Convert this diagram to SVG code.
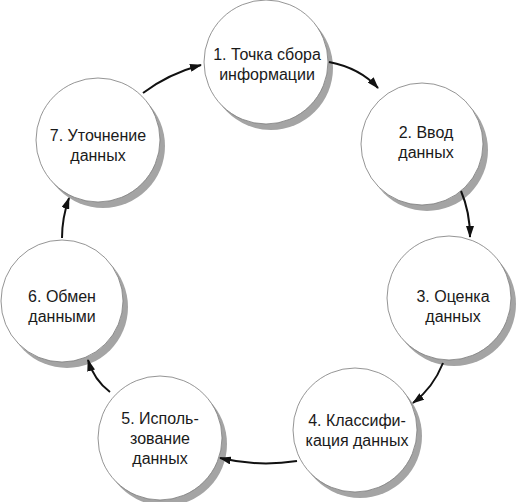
<svg xmlns="http://www.w3.org/2000/svg" width="524" height="502" viewBox="0 0 524 502">
<style>
.sh{fill:#a4a4a4}
.c{fill:#ffffff;stroke:#7a7a7a;stroke-width:0.8}
.t{font-family:"Liberation Sans",Arial,sans-serif;font-size:16px;fill:#1a1a1a;text-anchor:middle}
.a{fill:none;stroke:#111;stroke-width:2;marker-end:url(#ah)}
</style>
<defs>
<marker id="ah" markerUnits="userSpaceOnUse" markerWidth="12" markerHeight="8" refX="11" refY="4" orient="auto">
<path d="M0,0 L12,4 L0,8 z" fill="#111"/>
</marker>
</defs>
<rect width="524" height="502" fill="#ffffff"/>
<g id="node1"><circle class="sh" cx="271" cy="68" r="62"/><circle class="c" cx="266" cy="62" r="62"/><text class="t" x="267" y="60">1. Точка сбора</text><text class="t" x="267" y="80">информации</text></g>
<g id="node2"><circle class="sh" cx="427" cy="150" r="61"/><circle class="c" cx="422" cy="144" r="61"/><text class="t" x="426" y="138">2. Ввод</text><text class="t" x="426" y="158">данных</text></g>
<g id="node3"><circle class="sh" cx="454" cy="304" r="62"/><circle class="c" cx="449" cy="298" r="62"/><text class="t" x="453" y="302">3. Оценка</text><text class="t" x="453" y="322">данных</text></g>
<g id="node4"><circle class="sh" cx="360" cy="436" r="62"/><circle class="c" cx="355" cy="430" r="62"/><text class="t" x="357" y="426">4. Классифи-</text><text class="t" x="357" y="446">кация данных</text></g>
<g id="node5"><circle class="sh" cx="165" cy="444" r="62"/><circle class="c" cx="160" cy="438" r="62"/><text class="t" x="160" y="424">5. Исполь-</text><text class="t" x="160" y="444">зование</text><text class="t" x="160" y="464">данных</text></g>
<g id="node6"><circle class="sh" cx="67" cy="307" r="61"/><circle class="c" cx="62" cy="301" r="61"/><text class="t" x="62" y="302">6. Обмен</text><text class="t" x="62" y="322">данными</text></g>
<g id="node7"><circle class="sh" cx="103" cy="146" r="62"/><circle class="c" cx="98" cy="140" r="62"/><text class="t" x="98" y="141">7. Уточнение</text><text class="t" x="98" y="161">данных</text></g>
<g id="connectors">
<path class="a" d="M329,62 Q360,68 378,88"/>
<path class="a" d="M461,191 Q470,212 470,237"/>
<path class="a" d="M443,363 Q433,388 413,403"/>
<path class="a" d="M297,461 Q258,467 220,458"/>
<path class="a" d="M110,392 Q94,380 88,360"/>
<path class="a" d="M62,238 Q62,218 69,198"/>
<path class="a" d="M143,93 Q168,74 201,65"/>
</g>
</svg>
